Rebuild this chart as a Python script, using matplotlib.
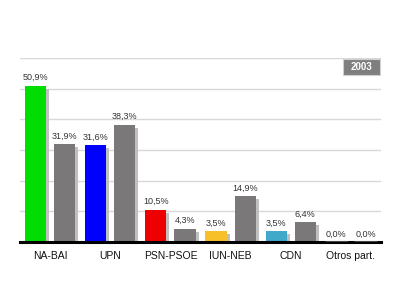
import numpy as np
import matplotlib
matplotlib.use('Agg')
import matplotlib.pyplot as plt
from matplotlib.patches import Rectangle

partidos = ['NA-BAI', 'UPN', 'PSN-PSOE', 'IUN-NEB', 'CDN', 'Otros part.']
votos_actual = [50.9, 31.6, 10.5, 3.5, 3.5, 0.0]
votos_gris = [31.9, 38.3, 4.3, 14.9, 6.4, 0.0]
colores = ['#00dd00', '#0000ff', '#ee0000', '#f8c028', '#40a8c8', '#444444']
anio = '2003'

plt.rcParams['font.family'] = ['Liberation Sans', 'DejaVu Sans']

fig = plt.figure(figsize=(4, 3), dpi=100)
ax = fig.add_axes([20 / 400, 58 / 300, 361 / 400, 184 / 300])

x = np.arange(len(partidos))
off = 0.242
w = 0.35
sh_dx = 0.05   # shadow offset (about 3 px)
sh_dy = 1.0

def etiqueta(v):
    return f"{v:.1f}".replace('.', ',') + '%'

for i, (a, g, c) in enumerate(zip(votos_actual, votos_gris, colores)):
    for xc, v, col in [(x[i] - off, a, c), (x[i] + off, g, '#7a7878')]:
        if v > 0:
            ax.bar(xc + sh_dx, max(v - sh_dy, 0), width=w, color='#c0c0c0',
                   lw=0, zorder=2)
            ax.bar(xc, v, width=w, color=col, lw=0, zorder=3)
        else:
            ax.hlines(0, xc - w / 2 - 0.02, xc + w / 2 + 0.02, color='#444444',
                      lw=2.2, zorder=5)
        ax.text(xc, v + 1.2, etiqueta(v), ha='center', va='bottom',
                fontsize=6.5, color='#333333', zorder=4)

ax.set_xlim(-0.5, 5.5)
ax.set_ylim(0, 60)
ax.set_yticks(np.arange(10, 61, 10))
ax.yaxis.grid(True, color='#d8d8d8', lw=1)
ax.set_axisbelow(True)
for s in ['top', 'right', 'left']:
    ax.spines[s].set_visible(False)
ax.spines['bottom'].set_linewidth(2.2)
ax.spines['bottom'].set_color('black')
ax.spines['bottom'].set_zorder(4)
ax.tick_params(left=False, bottom=False, labelleft=False)
ax.set_xticks(x)
ax.set_xticklabels(partidos, fontsize=7.5, color='#111111')
ax.tick_params(axis='x', pad=3)

# year tag box
fig.patches.append(Rectangle((343 / 400, (300 - 75) / 300), 37 / 400, 16 / 300,
                             transform=fig.transFigure, facecolor='#7f7f7f',
                             edgecolor='#d0d0d0', lw=0.8))
fig.text(361.5 / 400, (300 - 67) / 300, anio, ha='center', va='center',
         color='white', fontsize=7, fontweight='bold')

fig.savefig('out.png', dpi=100)
